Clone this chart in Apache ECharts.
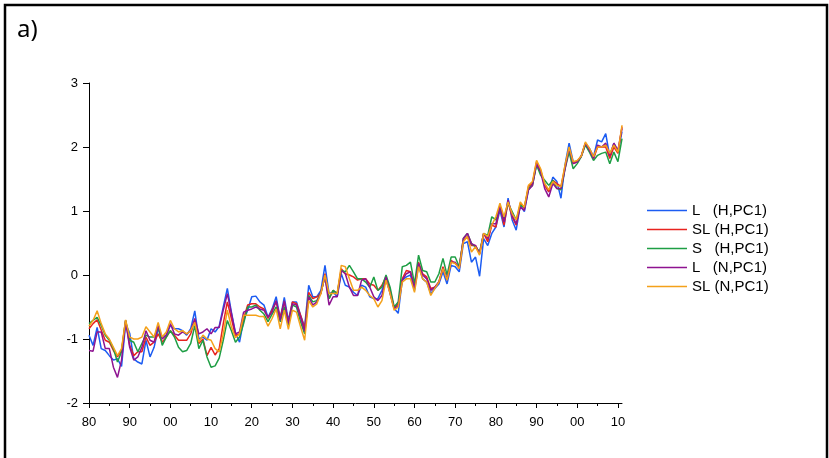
<!DOCTYPE html>
<html>
<head>
<meta charset="utf-8">
<script src="https://cdn.jsdelivr.net/npm/echarts@6/dist/echarts.min.js"></script>
<style>
  html, body { margin: 0; padding: 0; background: #fff; }
  #chart { width: 829px; height: 458px; }
</style>
</head>
<body>
<div id="chart"></div>
<script>
// Annual first principal component scores, 1880-2011
const firstYear = 1880;
const lastYear = 2011;
const years = Array.from({ length: lastYear - firstYear + 1 }, (_, i) => firstYear + i);

const seriesNames = ['L   (H,PC1)', 'SL (H,PC1)', 'S   (H,PC1)', 'L   (N,PC1)', 'SL (N,PC1)'];
const seriesColors = ['#1c5cf2', '#e8231f', '#1e9e44', '#8e1391', '#f4a11a'];

const lH = [
  -0.94, -1.10, -0.82, -1.15, -1.18, -1.26, -1.33, -1.31, -1.43, -0.76,
  -0.91, -1.31, -1.36, -1.39, -1.02, -1.28, -1.13, -0.84, -0.97, -0.94,
  -0.79, -0.84, -0.84, -0.87, -0.94, -0.84, -0.56, -1.00, -0.97, -1.02,
  -0.84, -0.89, -0.80, -0.50, -0.21, -0.58, -0.90, -1.05, -0.71, -0.55,
  -0.34, -0.33, -0.42, -0.47, -0.66, -0.53, -0.34, -0.68, -0.35, -0.71,
  -0.42, -0.42, -0.63, -0.81, -0.16, -0.34, -0.34, -0.24, 0.15, -0.29,
  -0.27, -0.34, 0.02, -0.16, -0.19, -0.27, -0.32, -0.16, -0.19, -0.34,
  -0.37, -0.37, -0.24, -0.08, -0.27, -0.52, -0.60, -0.08, -0.03, 0.00,
  -0.24, 0.15, -0.06, -0.11, -0.29, -0.21, -0.14, 0.05, -0.14, 0.15,
  0.13, 0.05, 0.49, 0.52, 0.20, 0.28, -0.02, 0.57, 0.46, 0.65,
  0.75, 1.01, 0.75, 1.20, 0.86, 0.70, 1.09, 0.99, 1.33, 1.43,
  1.74, 1.61, 1.43, 1.30, 1.53, 1.46, 1.20, 1.72, 2.06, 1.77,
  1.77, 1.86, 2.06, 1.98, 1.85, 2.11, 2.08, 2.21, 1.85, 2.06,
  1.92, 2.24
];

const slH = [
  -0.84, -0.76, -0.70, -0.86, -1.02, -1.05, -1.18, -1.28, -1.18, -0.71,
  -1.10, -1.26, -1.20, -1.20, -0.97, -1.10, -1.05, -0.92, -1.05, -0.97,
  -0.87, -0.94, -1.02, -1.02, -1.02, -0.92, -0.71, -1.07, -1.00, -1.26,
  -1.13, -1.25, -1.15, -0.76, -0.42, -0.68, -0.95, -0.92, -0.68, -0.47,
  -0.45, -0.45, -0.50, -0.53, -0.68, -0.55, -0.42, -0.66, -0.42, -0.74,
  -0.42, -0.45, -0.63, -0.84, -0.27, -0.37, -0.34, -0.29, 0.02, -0.37,
  -0.24, -0.29, 0.10, 0.02, 0.00, -0.03, -0.08, -0.06, -0.06, -0.14,
  -0.16, -0.24, -0.16, -0.03, -0.24, -0.52, -0.45, -0.06, 0.07, 0.05,
  -0.19, 0.20, 0.02, -0.03, -0.21, -0.19, -0.11, 0.13, -0.08, 0.23,
  0.18, 0.13, 0.54, 0.60, 0.46, 0.46, 0.33, 0.65, 0.52, 0.78,
  0.75, 1.09, 0.78, 1.14, 0.91, 0.78, 1.12, 1.04, 1.38, 1.43,
  1.77, 1.64, 1.40, 1.30, 1.48, 1.43, 1.38, 1.69, 1.98, 1.74,
  1.77, 1.86, 2.06, 1.95, 1.82, 2.00, 2.00, 2.00, 1.82, 2.00,
  1.90, 2.32
];

const sH = [
  -0.76, -0.71, -0.66, -0.79, -0.94, -1.02, -1.15, -1.36, -1.20, -0.71,
  -1.02, -1.05, -1.20, -1.07, -0.94, -0.97, -0.97, -0.81, -1.10, -0.97,
  -0.87, -0.97, -1.13, -1.20, -1.18, -1.07, -0.79, -1.15, -1.02, -1.28,
  -1.44, -1.42, -1.30, -1.02, -0.71, -0.87, -1.05, -0.97, -0.76, -0.50,
  -0.50, -0.47, -0.55, -0.61, -0.73, -0.61, -0.50, -0.73, -0.50, -0.79,
  -0.47, -0.50, -0.73, -0.92, -0.32, -0.42, -0.40, -0.27, -0.03, -0.37,
  -0.24, -0.29, 0.07, 0.05, 0.15, 0.05, -0.06, -0.06, -0.11, -0.19,
  -0.03, -0.24, -0.19, 0.00, -0.19, -0.50, -0.42, 0.13, 0.15, 0.20,
  -0.14, 0.31, 0.07, 0.05, -0.11, -0.11, 0.02, 0.26, 0.00, 0.28,
  0.28, 0.13, 0.57, 0.65, 0.49, 0.44, 0.36, 0.65, 0.62, 0.91,
  0.86, 1.04, 0.88, 1.12, 0.99, 0.86, 1.09, 1.06, 1.35, 1.40,
  1.72, 1.56, 1.48, 1.40, 1.48, 1.35, 1.33, 1.66, 1.92, 1.66,
  1.74, 1.85, 2.03, 1.92, 1.79, 1.87, 1.90, 1.92, 1.74, 1.92,
  1.77, 2.13
];

const lN = [
  -1.18, -1.19, -0.89, -0.89, -1.15, -1.15, -1.44, -1.60, -1.33, -0.72,
  -1.13, -1.33, -1.28, -1.13, -0.87, -1.02, -1.05, -0.79, -1.00, -0.94,
  -0.76, -0.92, -0.94, -0.89, -0.92, -0.87, -0.68, -0.92, -0.89, -0.84,
  -0.92, -0.82, -0.82, -0.55, -0.29, -0.60, -0.92, -0.89, -0.58, -0.55,
  -0.53, -0.50, -0.53, -0.55, -0.66, -0.58, -0.40, -0.71, -0.40, -0.76,
  -0.45, -0.47, -0.66, -0.88, -0.34, -0.47, -0.42, -0.27, -0.03, -0.47,
  -0.34, -0.34, 0.07, 0.02, -0.19, -0.32, -0.32, -0.08, -0.06, -0.19,
  -0.34, -0.40, -0.32, -0.03, -0.29, -0.53, -0.48, -0.08, 0.02, 0.05,
  -0.21, 0.18, 0.00, -0.06, -0.24, -0.19, -0.11, 0.10, -0.06, 0.20,
  0.20, 0.10, 0.57, 0.65, 0.49, 0.46, 0.33, 0.65, 0.57, 0.80,
  0.80, 1.06, 0.83, 1.17, 0.93, 0.80, 1.06, 1.01, 1.33, 1.40,
  1.74, 1.61, 1.35, 1.22, 1.43, 1.35, 1.35, 1.66, 1.98, 1.74,
  1.77, 1.86, 2.06, 1.95, 1.82, 2.03, 2.00, 2.06, 1.87, 2.06,
  1.95, 2.29
];

const slN = [
  -0.80, -0.71, -0.56, -0.76, -0.92, -1.00, -1.13, -1.26, -1.15, -0.70,
  -0.97, -1.00, -1.00, -0.97, -0.81, -0.89, -0.97, -0.74, -0.97, -0.89,
  -0.71, -0.84, -0.89, -0.87, -0.92, -0.87, -0.74, -1.05, -0.94, -1.00,
  -1.02, -1.15, -1.20, -0.92, -0.55, -0.81, -0.98, -0.92, -0.63, -0.63,
  -0.63, -0.63, -0.65, -0.65, -0.80, -0.68, -0.53, -0.84, -0.55, -0.85,
  -0.55, -0.58, -0.81, -1.02, -0.40, -0.50, -0.45, -0.29, 0.00, -0.29,
  -0.29, -0.29, 0.15, 0.13, -0.06, -0.24, -0.24, -0.19, -0.24, -0.32,
  -0.37, -0.50, -0.40, -0.08, -0.29, -0.55, -0.50, -0.11, -0.06, -0.06,
  -0.27, 0.13, -0.06, -0.11, -0.32, -0.21, -0.11, 0.10, -0.08, 0.20,
  0.18, 0.10, 0.52, 0.60, 0.36, 0.44, 0.31, 0.65, 0.60, 0.78,
  0.91, 1.12, 0.91, 1.14, 0.96, 0.86, 1.14, 1.06, 1.40, 1.46,
  1.79, 1.66, 1.43, 1.33, 1.46, 1.40, 1.38, 1.72, 2.00, 1.77,
  1.79, 1.86, 2.08, 1.98, 1.85, 2.00, 2.00, 2.03, 1.90, 2.03,
  1.92, 2.34
];

const seriesValues = [lH, slH, sH, lN, slN];

// Decade ticks carry labels; half-decade ticks are drawn shorter.
const decadeTicks = [1880, 1890, 1900, 1910, 1920, 1930, 1940, 1950, 1960, 1970, 1980, 1990, 2000, 2010];
const halfDecadeTicks = [1885, 1895, 1905, 1915, 1925, 1935, 1945, 1955, 1965, 1975, 1985, 1995, 2005];

const axisFont = { fontFamily: '"Liberation Sans", Arial, sans-serif', fontSize: 13, color: '#000' };

const chart = echarts.init(document.getElementById('chart'), null, { renderer: 'canvas' });

chart.setOption({
  animation: false,
  backgroundColor: '#fff',
  grid: { left: 89, top: 83, width: 533, height: 320, containLabel: false },
  xAxis: [
    {
      type: 'value',
      min: firstYear,
      max: lastYear,
      interval: 10,
      splitLine: { show: false },
      axisLine: { show: true, onZero: false, lineStyle: { color: '#000', width: 1 } },
      axisTick: { show: true, inside: false, length: 5, customValues: decadeTicks, lineStyle: { color: '#000' } },
      axisLabel: {
        show: true,
        margin: 13,
        customValues: decadeTicks,
        formatter: v => String(v % 100).padStart(2, '0'),
        ...axisFont
      }
    },
    {
      type: 'value',
      min: firstYear,
      max: lastYear,
      position: 'bottom',
      splitLine: { show: false },
      axisLine: { show: false, onZero: false },
      axisLabel: { show: false },
      axisTick: { show: true, inside: false, length: 3, customValues: halfDecadeTicks, lineStyle: { color: '#000' } }
    }
  ],
  yAxis: {
    type: 'value',
    min: -2,
    max: 3,
    interval: 1,
    splitLine: { show: false },
    axisLine: { show: true, onZero: false, lineStyle: { color: '#000', width: 1 } },
    axisTick: { show: true, inside: false, length: 6, lineStyle: { color: '#000' } },
    axisLabel: { margin: 11, ...axisFont }
  },
  legend: {
    orient: 'vertical',
    left: 647,
    top: 203,
    padding: 0,
    icon: 'rect',
    itemWidth: 40,
    itemHeight: 1.5,
    itemGap: 4,
    textStyle: { fontFamily: '"Liberation Sans", Arial, sans-serif', fontSize: 15, color: '#000' },
    data: seriesNames
  },
  graphic: [
    {
      type: 'rect',
      shape: { x: 5, y: 5, width: 822, height: 520 },
      style: { fill: 'none', stroke: '#000', lineWidth: 2.5 },
      silent: true
    },
    {
      type: 'text',
      left: 17,
      top: 18,
      style: { text: 'a)', fontFamily: '"Noto Sans", "Open Sans", sans-serif', fontSize: 24, fill: '#000' },
      silent: true
    }
  ],
  series: seriesValues.map((vals, i) => ({
    name: seriesNames[i],
    type: 'line',
    xAxisIndex: 0,
    symbol: 'none',
    color: seriesColors[i],
    lineStyle: { width: 1.5, color: seriesColors[i] },
    data: years.map((y, k) => [y, vals[k]])
  }))
});
</script>
</body>
</html>
